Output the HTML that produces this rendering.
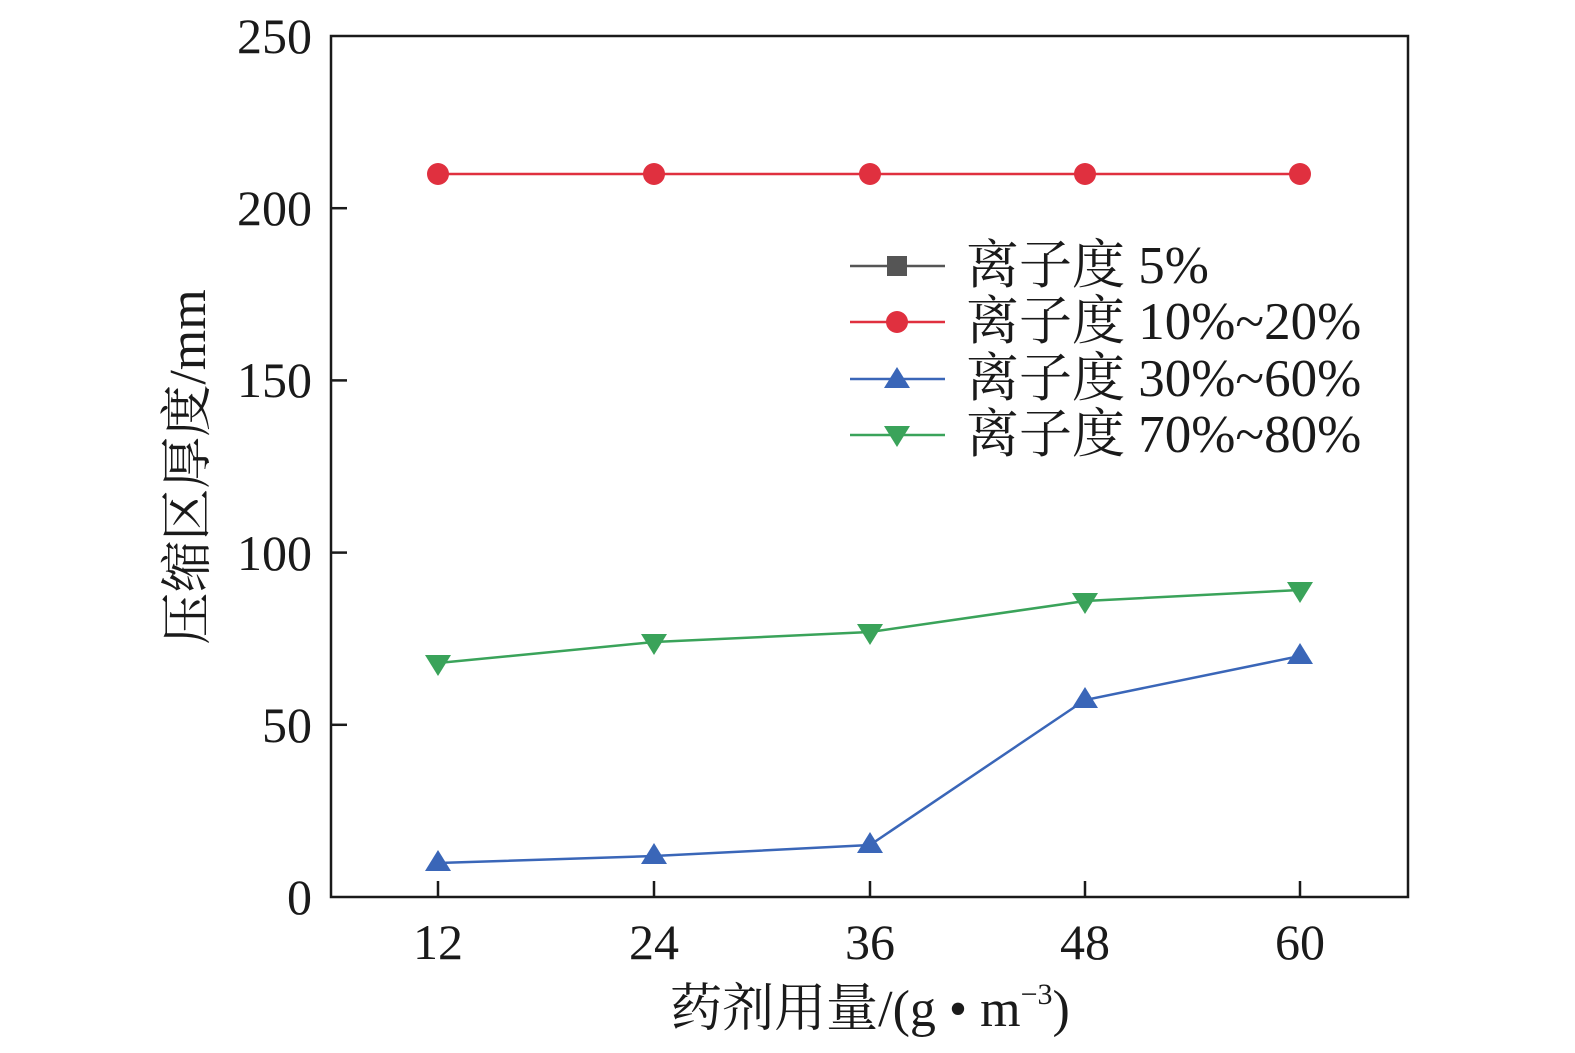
<!DOCTYPE html><html><head><style>body{margin:0;background:#fff}svg{display:block}text{font-family:"Liberation Serif","Times New Roman","Noto Serif CJK SC",serif;fill:#1a1a1a}</style></head><body>
<svg width="1575" height="1053" viewBox="0 0 1575 1053">
<rect x="331" y="36" width="1077" height="861" fill="none" stroke="#1a1a1a" stroke-width="2.5"/>
<g stroke="#1a1a1a" stroke-width="2.5">
<line x1="438" y1="897" x2="438" y2="881"/><line x1="654" y1="897" x2="654" y2="881"/><line x1="870" y1="897" x2="870" y2="881"/><line x1="1085" y1="897" x2="1085" y2="881"/><line x1="1300" y1="897" x2="1300" y2="881"/>
<line x1="331" y1="724.8" x2="347" y2="724.8"/><line x1="331" y1="552.6" x2="347" y2="552.6"/><line x1="331" y1="380.4" x2="347" y2="380.4"/><line x1="331" y1="208.2" x2="347" y2="208.2"/>
</g>
<g font-size="50" text-anchor="end">
<text x="312" y="914">0</text><text x="312" y="742">50</text><text x="312" y="570">100</text><text x="312" y="397">150</text><text x="312" y="225">200</text><text x="312" y="53">250</text>
</g>
<g font-size="50" text-anchor="middle">
<text x="438" y="959">12</text><text x="654" y="959">24</text><text x="870" y="959">36</text><text x="1085" y="959">48</text><text x="1300" y="959">60</text>
<text x="870" y="1026" font-size="52">药剂用量/(g • m<tspan font-size="30" dy="-22">−3</tspan><tspan dy="22">)</tspan></text>
</g>
<text transform="translate(205,467) rotate(-90)" text-anchor="middle" font-size="52">压缩区厚度/mm</text>
<polyline points="438,174 654,174 870,174 1085,174 1300,174" fill="none" stroke="#e0303f" stroke-width="2.5"/>
<g fill="#e0303f"><circle cx="438" cy="174" r="11"/><circle cx="654" cy="174" r="11"/><circle cx="870" cy="174" r="11"/><circle cx="1085" cy="174" r="11"/><circle cx="1300" cy="174" r="11"/></g>
<polyline points="438,663 654,642 870,632 1085,601 1300,590" fill="none" stroke="#3aa35a" stroke-width="2.5"/>
<g fill="#3aa35a">
<path d="M425,655h26l-13,21z"/><path d="M641,634h26l-13,21z"/><path d="M857,624h26l-13,21z"/><path d="M1072,593h26l-13,21z"/><path d="M1287,582h26l-13,21z"/></g>
<polyline points="438,863 654,856 870,845 1085,700 1300,656" fill="none" stroke="#3a66b8" stroke-width="2.5"/>
<g fill="#3a66b8">
<path d="M425,871h26l-13,-21z"/><path d="M641,864h26l-13,-21z"/><path d="M857,853h26l-13,-21z"/><path d="M1072,708h26l-13,-21z"/><path d="M1287,664h26l-13,-21z"/></g>
<g stroke-width="2.5">
<line x1="850" y1="266" x2="945" y2="266" stroke="#555"/><rect x="887" y="256" width="20" height="20" fill="#555"/>
<line x1="850" y1="322" x2="945" y2="322" stroke="#e0303f"/><circle cx="897" cy="322" r="11" fill="#e0303f"/>
<line x1="850" y1="379" x2="945" y2="379" stroke="#3a66b8"/><path d="M884,388h26l-13,-21z" fill="#3a66b8"/>
<line x1="850" y1="435" x2="945" y2="435" stroke="#3aa35a"/><path d="M884,426h26l-13,21z" fill="#3aa35a"/>
</g>
<g font-size="53">
<text x="966" y="283">离子度 5%</text><text x="966" y="339">离子度 10%~20%</text><text x="966" y="396">离子度 30%~60%</text><text x="966" y="452">离子度 70%~80%</text>
</g>
</svg></body></html>
